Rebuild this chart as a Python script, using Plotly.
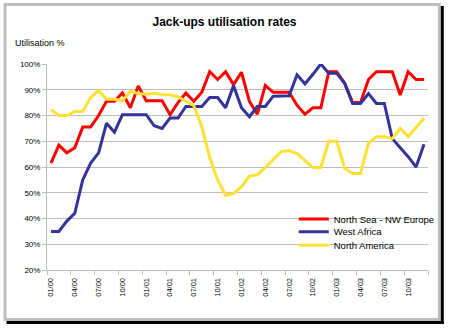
import plotly.graph_objects as go

months = ["01/00","02/00","03/00","04/00","05/00","06/00","07/00","08/00","09/00","10/00","11/00","12/00",
          "01/01","02/01","03/01","04/01","05/01","06/01","07/01","08/01","09/01","10/01","11/01","12/01",
          "01/02","02/02","03/02","04/02","05/02","06/02","07/02","08/02","09/02","10/02","11/02","12/02",
          "01/03","02/03","03/03","04/03","05/03","06/03","07/03","08/03","09/03","10/03","11/03","12/03"]

tick_labels = ["01/00","04/00","07/00","10/00","01/01","04/01","07/01","10/01",
               "01/02","04/02","07/02","10/02","01/03","04/03","07/03","10/03"]

north_sea = [61.5, 68.5, 65.5, 67.5, 75.5, 75.5, 80.0, 85.5, 85.5, 88.8, 83.0, 91.5,
             85.7, 85.7, 85.7, 80.3, 85.0, 88.7, 85.5, 89.0, 97.0, 94.0, 97.0, 92.0,
             96.8, 85.5, 80.5, 91.7, 89.0, 89.0, 89.0, 84.0, 80.5, 83.0, 83.0, 97.0,
             97.0, 92.5, 85.0, 85.0, 94.0, 97.0, 97.0, 97.0, 88.0, 97.0, 94.0, 94.0]

west_africa = [35.0, 35.0, 39.0, 42.0, 55.0, 61.5, 65.5, 77.0, 73.5, 80.3, 80.3, 80.3,
               80.3, 76.0, 75.0, 79.0, 79.0, 83.5, 83.5, 83.5, 87.0, 87.0, 83.0, 91.6,
               83.0, 79.5, 83.5, 83.5, 87.5, 87.7, 87.7, 95.8, 92.3, 96.0, 100.0, 96.4,
               96.4, 92.5, 84.7, 84.7, 88.5, 84.7, 84.7, 71.0, 67.5, 64.0, 60.0, 68.8]

north_america = [82.3, 80.0, 80.0, 81.6, 81.6, 87.0, 89.7, 86.3, 86.3, 85.8, 89.4, 88.5,
                 88.3, 88.6, 88.2, 88.0, 87.3, 85.7, 83.8, 75.7, 63.7, 55.0, 49.0, 49.7,
                 52.3, 56.5, 57.0, 59.8, 63.0, 66.0, 66.4, 65.2, 62.5, 59.8, 59.8, 70.0,
                 70.0, 59.5, 57.5, 57.5, 69.2, 71.7, 71.7, 71.0, 75.0, 71.8, 75.3, 79.0]

series_names = ["North Sea - NW Europe", "West Africa", "North America"]
series_colors = ["#FF0000", "#333399", "#FFE135"]

W, H = 452, 328
L, R, T, B = 47, 433, 64, 270
FONT = "Liberation Sans, Arial, sans-serif"
GRID = "#BDBDBD"

def px_x(p):
    return (p - L) / (R - L)

def px_y(p):
    return (B - p) / (B - T)

idx = list(range(len(months)))
tick_pos = [months.index(t) for t in tick_labels]

fig = go.Figure()
legend_ids = ["legend", "legend2", "legend3"]
for name, vals, col, lg in zip(series_names, [north_sea, west_africa, north_america], series_colors, legend_ids):
    fig.add_trace(go.Scatter(x=idx, y=vals, mode="lines", name=name,
                             line=dict(color=col, width=3), legend=lg,
                             hovertext=months, hoverinfo="text+y+name"))

legend_y = [219, 231.7, 245.3]
legend_common = dict(x=px_x(297), xanchor="left", yanchor="middle",
                     bgcolor="rgba(0,0,0,0)", borderwidth=0,
                     font=dict(family=FONT, size=9.5, color="black"))

fig.update_layout(
    width=W, height=H,
    margin=dict(l=L, r=W - R, t=T, b=H - B, pad=0),
    paper_bgcolor="white", plot_bgcolor="white",
    title=dict(text="<b>Jack-ups utilisation rates</b>", x=224.5 / W, xanchor="center",
               y=1 - 21.5 / H, yanchor="middle", yref="container",
               font=dict(family=FONT, size=12, color="black")),
    showlegend=True,
    legend=dict(y=px_y(legend_y[0]), **legend_common),
    legend2=dict(y=px_y(legend_y[1]), **legend_common),
    legend3=dict(y=px_y(legend_y[2]), **legend_common),
    xaxis=dict(range=[-0.5, len(months) - 0.5], tickmode="array", tickvals=tick_pos,
               ticktext=tick_labels, tickangle=-90, ticks="", showgrid=False,
               showline=True, linecolor=GRID, linewidth=1, zeroline=False,
               ticklabelstandoff=4,
               tickfont=dict(family=FONT, size=7.5, color="black"),
               minor=dict(ticks="outside", tick0=-0.5, dtick=3, ticklen=4,
                          tickcolor=GRID, tickwidth=1, showgrid=False)),
    yaxis=dict(range=[20, 100], dtick=10, tick0=20, ticksuffix="%", showgrid=True,
               gridcolor=GRID, gridwidth=1, showline=True, linecolor=GRID, linewidth=1,
               ticks="outside", ticklen=4, tickcolor=GRID, zeroline=False,
               tickfont=dict(family=FONT, size=8, color="black")),
    annotations=[dict(text="Utilisation %", xref="paper", yref="paper",
                      x=px_x(13), y=px_y(43.5), xanchor="left", yanchor="middle",
                      showarrow=False, font=dict(family=FONT, size=9, color="black"))],
    shapes=[
        # white legend background covering gridlines
        dict(type="rect", xref="paper", yref="paper", x0=px_x(289), x1=1.0,
             y0=px_y(256), y1=px_y(206), fillcolor="white", line=dict(width=0), layer="between"),
        # chart area border
        dict(type="rect", xref="paper", yref="paper", x0=px_x(4.5), x1=px_x(444.5),
             y0=px_y(319.5), y1=px_y(4.5), line=dict(color="#BDBDBD", width=3),
             fillcolor="rgba(0,0,0,0)", layer="above"),
        # shadow
        dict(type="rect", xref="paper", yref="paper", x0=px_x(446), x1=px_x(449),
             y0=px_y(324), y1=px_y(6), fillcolor="black", line=dict(width=0), layer="above"),
        dict(type="rect", xref="paper", yref="paper", x0=px_x(6), x1=px_x(449),
             y0=px_y(324), y1=px_y(321), fillcolor="black", line=dict(width=0), layer="above"),
    ],
)

fig.write_html("out.html")
